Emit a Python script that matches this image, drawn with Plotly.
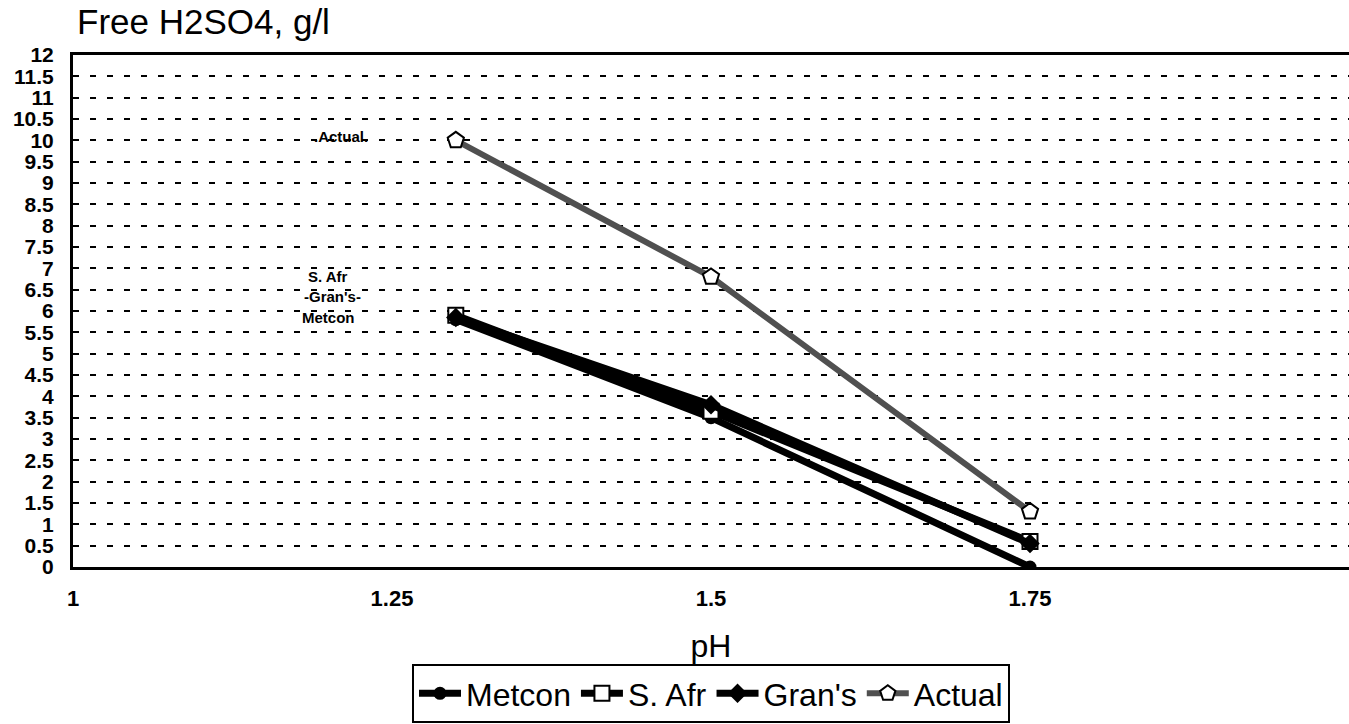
import plotly.graph_objects as go

ph = [1.3, 1.5, 1.75]
metcon = [5.8, 3.5, 0.0]
s_afr = [5.9, 3.65, 0.6]
grans = [5.85, 3.8, 0.55]
actual = [10.0, 6.8, 1.3]

x_ticks = [1, 1.25, 1.5, 1.75, 2]
x_ticklabels = ["1", "1.25", "1.5", "1.75", "2"]
y_ticks = [i * 0.5 for i in range(25)]
y_ticklabels = [("%g" % v) for v in y_ticks]

label_x = [1.21, 1.2, 1.203, 1.2]
label_names = [".Actual.", "S. Afr", "-Gran's-", "Metcon"]
label_y = [10.1, 6.82, 6.35, 5.85]

FONT = "Liberation Sans, Arial, Helvetica, sans-serif"

fig = go.Figure()

fig.add_trace(go.Scatter(
    x=ph, y=metcon, name="Metcon", mode="lines+markers",
    line=dict(color="black", width=7),
    marker=dict(symbol="circle", size=13, color="black"),
))
fig.add_trace(go.Scatter(
    x=ph, y=s_afr, name="S. Afr", mode="lines+markers",
    line=dict(color="black", width=7),
    marker=dict(symbol="square", size=15, color="white", line=dict(color="black", width=2)),
))
fig.add_trace(go.Scatter(
    x=ph, y=grans, name="Gran's", mode="lines+markers",
    line=dict(color="black", width=7),
    marker=dict(symbol="diamond", size=15, color="black"),
))
fig.add_trace(go.Scatter(
    x=ph, y=actual, name="Actual", mode="lines+markers",
    line=dict(color="#505050", width=6),
    marker=dict(symbol="pentagon", size=17, color="white", line=dict(color="black", width=2)),
))

for name, xv, yv in zip(label_names, label_x, label_y):
    fig.add_annotation(
        x=xv, y=yv, text=name, showarrow=False,
        font=dict(family=FONT, size=15, color="black", weight="bold"),
        xanchor="center", yanchor="middle",
    )

fig.update_layout(
    width=1349, height=724,
    margin=dict(l=73, r=0, t=55, b=157),
    paper_bgcolor="white", plot_bgcolor="white",
    font=dict(family=FONT, color="black"),
    title=dict(
        text="Free H2SO4, g/l",
        x=77 / 1349, xanchor="left", xref="container",
        y=1 - 9 / 724, yanchor="top", yref="container",
        font=dict(family=FONT, size=35, color="black"),
    ),
    showlegend=True,
    legend=dict(
        orientation="h", x=0.5, xanchor="center",
        y=(567 - 664) / 512, yanchor="top",
        bordercolor="black", borderwidth=2, bgcolor="white",
        font=dict(family=FONT, size=32, color="black"),
        itemwidth=42, tracegroupgap=0,
    ),
)

fig.update_xaxes(
    range=[1, 2], tickmode="array", tickvals=x_ticks, ticktext=x_ticklabels,
    showgrid=False, zeroline=False,
    showline=True, linecolor="black", linewidth=3, mirror=True,
    ticks="", ticklabelstandoff=10,
    tickfont=dict(family=FONT, size=22, color="black", weight="bold"),
    title=dict(text="pH", font=dict(family=FONT, size=32, color="black"), standoff=25),
)
fig.update_yaxes(
    range=[0, 12], tickmode="array", tickvals=y_ticks, ticktext=y_ticklabels,
    showgrid=True, gridcolor="black", gridwidth=2, griddash="6px,11px",
    zeroline=False,
    showline=True, linecolor="black", linewidth=3,
    ticks="", ticklabelstandoff=12,
    tickfont=dict(family=FONT, size=21, color="black", weight="bold"),
)

fig.write_html("out.html")
